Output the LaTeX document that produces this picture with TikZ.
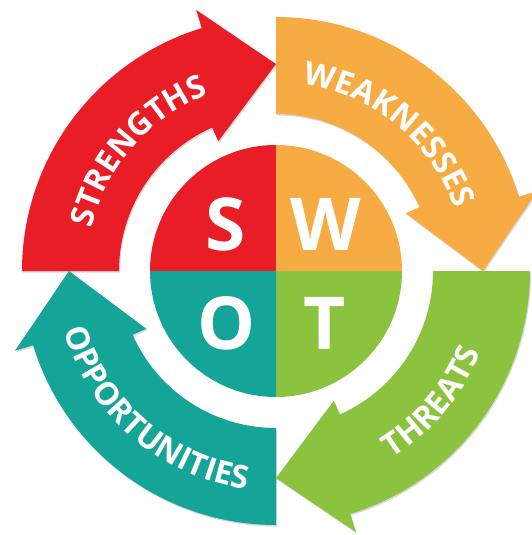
\documentclass[tikz,border=0pt]{standalone}
\usepackage{fontspec}
\setmainfont{Open Sans}
\usetikzlibrary{decorations.text, shadows}

\definecolor{swotred}{RGB}{233,29,37}
\definecolor{swotorange}{RGB}{247,172,67}
\definecolor{swotgreen}{RGB}{139,195,63}
\definecolor{swotteal}{RGB}{20,164,152}

\newcommand\arcfont{\fontsize{32}{32}\selectfont\bfseries}

\tikzset{
  arrowpart/.style={drop shadow={shadow xshift=1pt, shadow yshift=-1.5pt, opacity=.3}},
  bigletter/.style={text=white, inner sep=0pt, font=\fontsize{73}{73}\selectfont\bfseries},
  arclabel/.style={decorate, decoration={text along path, text align=center,
      text color=white, text={|\arcfont|#1}}},
}

\begin{document}
\begin{tikzpicture}[x=1pt, y=1pt]
  \useasboundingbox (-276,-264) rectangle (255,271);

  % curved arrows, one per quadrant (tail angle / colour)
  \foreach \a/\c in {180/swotred, 90/swotorange, 0/swotgreen, -90/swotteal} {
    \fill[\c, arrowpart] (\a:254) arc[start angle=\a, end angle=\a-73, radius=254]
      -- (\a-73:273) -- (\a-90:207) -- (\a-66:142) -- (\a-66:157)
      arc[start angle=\a-66, end angle=\a, radius=157] -- cycle;
  }

  % centre circle
  \fill[swotred]    (0,0) -- (180:126) arc[start angle=180, end angle=90, radius=126] -- cycle;
  \fill[swotorange] (0,0) -- (90:126) arc[start angle=90, end angle=0, radius=126] -- cycle;
  \fill[swotgreen]  (0,0) -- (0:126) arc[start angle=0, end angle=-90, radius=126] -- cycle;
  \fill[swotteal]   (0,0) -- (-90:126) arc[start angle=-90, end angle=-180, radius=126] -- cycle;

  \node[bigletter] (s) at (-50,47) {S};
  \node[bigletter] (w) at (50,47) {W};
  \node[bigletter] (o) at (-49,-52) {O};
  \node[bigletter] (t) at (49,-52) {T};

  % labels on the arrows
  \path[arclabel=STRENGTHS] (180:189) arc[start angle=180, end angle=98, radius=189];
  \path[arclabel=WEAKNESSES] (96:189) arc[start angle=96, end angle=5, radius=189];
  \path[arclabel=THREATS] (-80:220) arc[start angle=-80, end angle=0, radius=220];
  \path[arclabel=OPPORTUNITIES] (184:220) arc[start angle=184, end angle=274, radius=220];
\end{tikzpicture}
\end{document}
